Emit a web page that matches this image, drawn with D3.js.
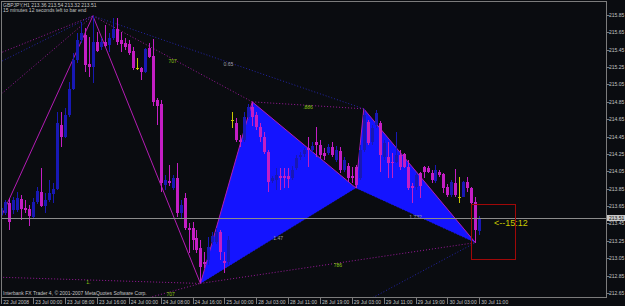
<!DOCTYPE html>
<html>
<head>
<meta charset="utf-8">
<script src="https://cdn.jsdelivr.net/npm/d3@7"></script>
<style>
  html, body { margin: 0; padding: 0; background: #0a0c10; }
  svg { display: block; }
  text { font-family: "Liberation Sans", Arial, sans-serif; }
</style>
</head>
<body>
<div id="viz"></div>
<script>
'use strict';

const symbol = "GBPJPY,H1";
const timeLeft = "15 minutes 12 seconds left to bar end";
const countdown = "<--15:12";
const copyright = "Interbank FX Trader 4, \u00a9 2001-2007 MetaQuotes Software Corp.";

// hourly bars, 22 Jul 2008 16:00 .. 30 Jul 2008 11:00
const opens = [
  213.55, 213.57, 213.69, 213.61, 213.61, 213.73, 213.63, 213.62, 213.53, 213.70,
  213.81, 213.65, 213.72, 213.79, 213.85, 214.58, 214.45, 214.70, 215.00, 215.33,
  215.56, 215.62, 215.29, 215.25, 215.54, 215.48, 215.54, 215.50, 215.59, 215.69,
  215.56, 215.53, 215.52, 215.44, 215.24, 215.24, 215.19, 215.47, 215.38, 214.87,
  214.83, 213.89, 213.94, 213.86, 213.97, 213.57, 213.74, 213.40, 213.40, 213.28,
  213.17, 213.01, 213.03, 213.24, 213.24, 213.35, 213.02, 213.01, 214.64, 214.61,
  214.41, 214.41, 214.68, 214.79, 214.70, 214.56, 214.45, 214.27, 213.94, 213.95,
  214.00, 214.00, 214.00, 213.97, 214.09, 214.22, 214.25, 214.32, 214.30, 214.39,
  214.35, 214.26, 214.26, 214.33, 214.18, 214.28, 214.07, 214.11, 214.00, 214.10,
  213.97, 214.30, 214.62, 214.39, 214.58, 214.61, 214.22, 214.22, 214.16, 214.16,
  214.24, 214.25, 214.10, 213.88, 213.87, 214.03, 214.10, 214.09, 214.03, 213.94,
  214.04, 214.02, 213.87, 213.78, 213.92, 213.76, 213.76, 213.93, 213.86, 213.70,
  213.36
];
const highs = [
  213.72, 213.72, 213.74, 213.76, 213.81, 213.78, 213.72, 213.66, 213.74, 213.87,
  214.09, 213.80, 213.95, 213.92, 214.73, 214.73, 214.78, 215.08, 215.41, 215.64,
  215.77, 215.70, 215.60, 215.84, 215.65, 215.59, 215.74, 215.64, 215.82, 215.82,
  215.65, 215.59, 215.56, 215.48, 215.36, 215.25, 215.47, 215.53, 215.57, 214.89,
  214.87, 214.01, 214.12, 214.01, 214.15, 213.72, 213.80, 213.46, 213.47, 213.38,
  213.26, 213.12, 213.30, 213.35, 213.40, 213.38, 213.12, 213.31, 214.73, 214.66,
  214.47, 214.73, 214.83, 214.85, 214.73, 214.61, 214.50, 214.30, 214.00, 214.09,
  214.09, 214.09, 214.09, 214.11, 214.24, 214.27, 214.32, 214.45, 214.39, 214.56,
  214.41, 214.32, 214.37, 214.39, 214.34, 214.33, 214.22, 214.15, 214.10, 214.12,
  214.35, 214.77, 214.64, 214.58, 214.76, 214.63, 214.41, 214.39, 214.26, 214.50,
  214.30, 214.26, 214.18, 213.92, 214.03, 214.04, 214.11, 214.11, 214.07, 214.12,
  214.07, 214.03, 213.91, 213.95, 214.08, 213.99, 213.94, 213.99, 213.87, 213.76,
  213.54
];
const lows = [
  213.53, 213.55, 213.38, 213.56, 213.58, 213.49, 213.57, 213.42, 213.51, 213.68,
  213.64, 213.57, 213.70, 213.69, 213.84, 214.33, 214.43, 214.68, 214.99, 215.30,
  215.53, 215.19, 215.14, 215.07, 215.42, 215.45, 215.48, 215.42, 215.56, 215.50,
  215.42, 215.45, 215.39, 215.22, 215.22, 215.10, 215.18, 215.36, 214.80, 214.58,
  213.81, 213.84, 213.88, 213.84, 213.53, 213.51, 213.38, 213.11, 213.15, 213.11,
  212.76, 212.94, 212.97, 213.20, 213.21, 213.03, 212.88, 212.97, 214.55, 214.39,
  214.33, 214.39, 214.65, 214.57, 214.53, 214.39, 214.25, 213.81, 213.92, 213.84,
  213.84, 213.86, 213.86, 213.95, 214.07, 214.18, 214.22, 214.10, 214.27, 214.22,
  214.20, 214.18, 214.24, 214.22, 214.16, 214.03, 214.04, 213.93, 213.92, 213.86,
  213.95, 214.27, 214.35, 214.35, 214.55, 214.04, 214.18, 213.97, 213.97, 214.15,
  214.07, 214.09, 213.84, 213.69, 213.84, 213.74, 213.97, 214.03, 213.92, 213.92,
  213.99, 213.80, 213.76, 213.76, 213.76, 213.69, 213.76, 213.81, 213.68, 213.23,
  213.32
];
const closes = [
  213.63, 213.70, 213.47, 213.72, 213.74, 213.62, 213.61, 213.54, 213.70, 213.82,
  213.65, 213.72, 213.80, 213.85, 214.61, 214.45, 214.70, 215.00, 215.33, 215.56,
  215.64, 215.27, 215.25, 215.54, 215.44, 215.54, 215.49, 215.59, 215.69, 215.54,
  215.52, 215.48, 215.41, 215.24, 215.24, 215.19, 215.46, 215.37, 214.85, 214.80,
  213.92, 213.95, 213.92, 213.97, 213.57, 213.66, 213.40, 213.38, 213.26, 213.15,
  212.95, 212.98, 213.18, 213.31, 213.35, 213.12, 213.00, 213.26, 214.64, 214.41,
  214.39, 214.68, 214.79, 214.68, 214.56, 214.45, 214.27, 213.93, 213.97, 214.01,
  213.97, 213.97, 213.96, 214.07, 214.20, 214.24, 214.30, 214.30, 214.34, 214.35,
  214.24, 214.23, 214.33, 214.24, 214.30, 214.07, 214.18, 213.97, 213.97, 213.89,
  214.30, 214.70, 214.38, 214.55, 214.72, 214.24, 214.38, 214.15, 214.15, 214.24,
  214.10, 214.10, 213.86, 213.86, 214.01, 213.88, 214.04, 214.04, 213.95, 214.07,
  214.01, 213.86, 213.78, 213.93, 213.78, 213.76, 213.93, 213.86, 213.69, 213.38,
  213.51
];

const timeTicks = [0, 8, 16, 24, 32, 40, 48, 56, 64, 72, 80, 88, 96, 104, 112, 120];
const timeLabels = ["22 Jul 2008", "23 Jul 00:00", "23 Jul 08:00", "23 Jul 16:00",
  "24 Jul 00:00", "24 Jul 08:00", "24 Jul 16:00", "25 Jul 00:00", "28 Jul 03:00",
  "28 Jul 11:00", "28 Jul 19:00", "29 Jul 03:00", "29 Jul 11:00", "29 Jul 19:00",
  "30 Jul 03:00", "30 Jul 11:00"];
const priceTicks = [215.85, 215.65, 215.45, 215.25, 215.05, 214.85, 214.65, 214.45,
  214.25, 214.05, 213.85, 213.65, 213.45, 213.25, 213.05, 212.85, 212.65];

// zigzag turning points
const zigBars = [0, 23, 50, 63, 89, 91, 119];
const zigPrices = [213.53, 215.84, 212.76, 214.85, 213.86, 214.77, 213.23];
// filled pattern triangles (indexes into the zigzag points)
const triangles = [[2, 3, 4], [4, 5, 6]];

// ratio lines [bar, price] -> [bar, price]
const ratioFrom = [[23, 215.84], [23, 215.84], [63, 214.85], [50, 212.76], [50, 212.76],
  [89, 213.86], [-6.3, 212.84], [35, 212.57], [-20, 215.05], [-20, 214.86], [-20, 214.16], [80, 212.27]];
const ratioTo = [[63, 214.85], [91, 214.77], [91, 214.77], [119, 213.23], [89, 213.86],
  [119, 213.23], [50, 212.76], [50, 212.76], [23, 215.84], [23, 215.84], [23, 215.84], [119, 213.23]];
const ratioLabels = ["707", "0.65", ".886", "786", "1.47", "1.732", "1.", "707", "", "", "", ""];
const ratioKinds = ["m", "b", "m", "m", "b", "b", "m", "m", "m", "b", "m", "b"];

// time box round the last bar
const boxBars = [118, 129];
const boxPrices = [213.68, 213.05];

const width = 625;
const height = 306;
const plotLeft = 1, plotTop = 1, plotRight = 606, plotBottom = 297;

const bg = "#0a0c10";
const bullColor = "#1818b4";
const bearColor = "#c41ec4";
const dojiColor = "#c8c800";
const axisText = "#c4c4c4";

const svg = d3.select("#viz")
    .append("svg")
    .attr("width", width)
    .attr("height", height);

svg.append("rect").attr("width", width).attr("height", height).attr("fill", bg);

const x = d3.scaleLinear().domain([0, 120]).range([1.3, 479.3]);
const y = d3.scaleLinear().domain([212.604, 216.011]).range([plotBottom, plotTop]);

svg.append("clipPath").attr("id", "plotclip")
    .append("rect")
    .attr("x", plotLeft).attr("y", plotTop)
    .attr("width", plotRight - plotLeft).attr("height", plotBottom - plotTop);

const chart = svg.append("g").attr("clip-path", "url(#plotclip)");

// dotted ratio lines
chart.append("g").selectAll("line")
    .data(d3.range(ratioFrom.length))
    .enter()
    .append("line")
    .attr("x1", i => x(ratioFrom[i][0]))
    .attr("y1", i => y(ratioFrom[i][1]))
    .attr("x2", i => x(ratioTo[i][0]))
    .attr("y2", i => y(ratioTo[i][1]))
    .attr("stroke", i => ratioKinds[i] === "m" ? "#9a189a" : "#2424a8")
    .attr("stroke-width", 1)
    .attr("stroke-dasharray", "1,2");

// pattern triangles
const pt = k => [x(zigBars[k]), y(zigPrices[k])];
chart.append("g").selectAll("path")
    .data(triangles)
    .enter()
    .append("path")
    .attr("d", t => d3.line()(t.map(pt)) + "Z")
    .attr("fill", "#1414ff");

// zigzag
chart.append("path")
    .attr("d", d3.line()(zigBars.map((b, k) => pt(k))))
    .attr("fill", "none")
    .attr("stroke", "#b41cb4")
    .attr("stroke-width", 1);

// candles
const candles = chart.append("g").attr("shape-rendering", "crispEdges");
const colorOf = i => closes[i] > opens[i] ? bullColor : (closes[i] < opens[i] ? bearColor : dojiColor);
const cx = i => Math.round(x(i));

candles.selectAll("line.wick")
    .data(d3.range(opens.length))
    .enter()
    .append("line")
    .attr("class", "wick")
    .attr("x1", i => cx(i) + 0.5)
    .attr("x2", i => cx(i) + 0.5)
    .attr("y1", i => y(highs[i]))
    .attr("y2", i => y(lows[i]))
    .attr("stroke", colorOf);

candles.selectAll("rect.body")
    .data(d3.range(opens.length))
    .enter()
    .append("rect")
    .attr("class", "body")
    .attr("x", i => cx(i) - 1)
    .attr("width", 3)
    .attr("y", i => y(Math.max(opens[i], closes[i])))
    .attr("height", i => Math.max(1, Math.abs(y(opens[i]) - y(closes[i]))))
    .attr("fill", colorOf);

// ratio labels
chart.append("g").selectAll("text")
    .data(d3.range(ratioFrom.length).filter(i => ratioLabels[i]))
    .enter()
    .append("text")
    .attr("x", i => (x(ratioFrom[i][0]) + x(ratioTo[i][0])) / 2)
    .attr("y", i => (y(ratioFrom[i][1]) + y(ratioTo[i][1])) / 2 + 4)
    .attr("text-anchor", "middle")
    .attr("font-size", 5)
    .attr("fill", i => ratioKinds[i] === "m" ? "#8cc814" : "#a0a0a0")
    .text(i => ratioLabels[i]);

// bid line
const last = closes.length - 1;
chart.append("line")
    .attr("x1", plotLeft).attr("x2", plotRight)
    .attr("y1", Math.round(y(closes[last])) + 0.5)
    .attr("y2", Math.round(y(closes[last])) + 0.5)
    .attr("stroke", "#8c8c8c");

// time box and countdown
chart.append("rect")
    .attr("x", Math.round(x(boxBars[0])) + 0.5)
    .attr("y", Math.round(y(boxPrices[0])) + 0.5)
    .attr("width", Math.round(x(boxBars[1]) - x(boxBars[0])))
    .attr("height", Math.round(y(boxPrices[1]) - y(boxPrices[0])))
    .attr("fill", "none")
    .attr("stroke", "#a00808");

chart.append("text")
    .attr("x", x(123.7))
    .attr("y", y(213.46) + 3)
    .attr("font-family", "DejaVu Sans")
    .attr("font-size", 9)
    .attr("fill", dojiColor)
    .text(countdown);

// frame
svg.append("rect")
    .attr("x", plotLeft + 0.5).attr("y", plotTop + 0.5)
    .attr("width", plotRight - plotLeft).attr("height", plotBottom - plotTop)
    .attr("fill", "none")
    .attr("stroke", "#7c7c7c");

// price axis
const yAxis = svg.append("g");
yAxis.selectAll("line")
    .data(priceTicks)
    .enter()
    .append("line")
    .attr("x1", plotRight + 0.5).attr("x2", plotRight + 3.5)
    .attr("y1", d => Math.round(y(d)) + 0.5)
    .attr("y2", d => Math.round(y(d)) + 0.5)
    .attr("stroke", "#7c7c7c");
yAxis.selectAll("text")
    .data(priceTicks)
    .enter()
    .append("text")
    .attr("x", plotRight + 3)
    .attr("y", d => y(d) + 2)
    .attr("font-size", 5)
    .attr("fill", axisText)
    .text(d => d.toFixed(2));

// bid price box
const bidY = Math.round(y(closes[last]));
svg.append("rect")
    .attr("x", plotRight + 1).attr("y", bidY - 3)
    .attr("width", width - plotRight - 1).attr("height", 6)
    .attr("fill", "#c8c8c8");
svg.append("text")
    .attr("x", plotRight + 3).attr("y", bidY + 2)
    .attr("font-size", 5)
    .attr("fill", "#101010")
    .text(closes[last].toFixed(2));

// time axis
const xAxis = svg.append("g");
xAxis.selectAll("line")
    .data(timeTicks)
    .enter()
    .append("line")
    .attr("x1", d => Math.round(x(d)) + 0.5)
    .attr("x2", d => Math.round(x(d)) + 0.5)
    .attr("y1", plotBottom).attr("y2", plotBottom + 7)
    .attr("stroke", "#7c7c7c");
xAxis.selectAll("text")
    .data(timeTicks)
    .enter()
    .append("text")
    .attr("x", d => x(d) + 2)
    .attr("y", plotBottom + 7)
    .attr("font-size", 5)
    .attr("fill", axisText)
    .text((d, k) => timeLabels[k]);

// header and footer
svg.append("text")
    .attr("x", 3).attr("y", 7)
    .attr("font-size", 5)
    .attr("fill", axisText)
    .text(symbol + "  " + [opens[last], highs[last], lows[last], closes[last]].map(v => v.toFixed(2)).join(" "));
svg.append("text")
    .attr("x", 3).attr("y", 12)
    .attr("font-size", 5)
    .attr("fill", axisText)
    .text(timeLeft);
svg.append("text")
    .attr("x", 3).attr("y", 295)
    .attr("font-size", 5)
    .attr("fill", axisText)
    .text(copyright);
</script>
</body>
</html>
